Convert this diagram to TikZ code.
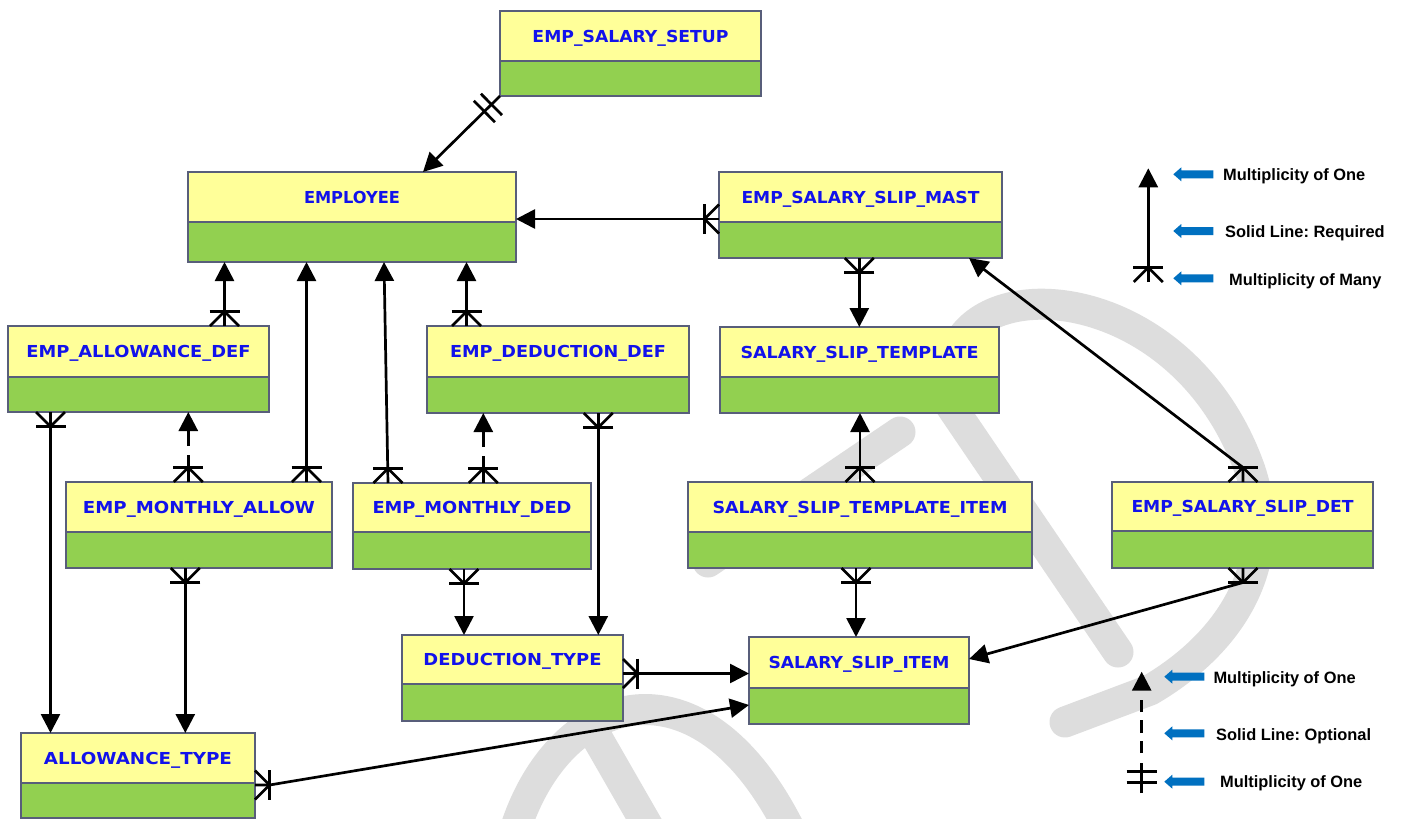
\documentclass[tikz,border=0pt]{standalone}
\usepackage{fontspec}
\usepackage{graphicx}
\setmainfont{Liberation Sans}
\newfontfamily\titlefont{DejaVu Sans}
\usetikzlibrary{arrows.meta,calc}

\definecolor{hdryellow}{RGB}{255,255,153}
\definecolor{bodygreen}{RGB}{146,208,80}
\definecolor{framegrey}{RGB}{88,94,122}
\definecolor{titleblue}{RGB}{18,18,235}
\definecolor{legendblue}{RGB}{0,112,192}
\definecolor{markgrey}{RGB}{221,221,221}

\tikzset{
  entity/.style={draw=framegrey, line width=2.8pt, fill=hdryellow, rectangle, inner sep=0pt, outer sep=0pt},
  etitle/.style={font=\titlefont\bfseries\fontsize{16.5}{16.5}\selectfont, text=titleblue, inner sep=0pt, anchor=base},
  rel/.style={line width=2.7pt, black, line join=round},
  tip/.style={-{Triangle[length=19pt 0 0,width=19pt 0 0]}},
  opt/.style={dash pattern=on 27pt off 9pt},
  legtext/.style={font=\bfseries\fontsize{16.4}{16.4}\selectfont\frenchspacing, inner sep=0pt, anchor=base west},
  wmark/.style={draw=markgrey, line width=31pt, line cap=round, line join=round},
}

% entity box: name, left x, top y, width, height, header height, title width, title
\newcommand\entity[8]{%
  \node[entity, minimum width=#4pt, minimum height=#5pt, anchor=north west,
    path picture={%
      \fill[bodygreen] ([yshift=-#6pt]path picture bounding box.north west) rectangle (path picture bounding box.south east);
      \draw[framegrey, line width=2.8pt] ([yshift=-#6pt]path picture bounding box.north west) -- ([yshift=-#6pt]path picture bounding box.north east);}]
    (#1) at (#2,#3) {};
  \node[etitle] (#1-t) at ([yshift=-#6pt/2-6.4pt]#1.north) {\resizebox{#7pt}{\height}{#8}};
}

% "many" end: crow's foot with a bar, at an edge point, opening towards the edge
\newcommand\crowfoot[3]{%
  \coordinate (cf-out) at ($(#1)+(#2,#3)$);
  \coordinate (cf-apex) at ($(#1)!14.5pt!(cf-out)$);
  \draw[rel] ($(cf-apex)!15pt!90:(cf-out)$) -- ($(cf-apex)!15pt!-90:(cf-out)$);
  \draw[rel] ($(#1)!14.5pt!90:(cf-out)$) -- (cf-apex) -- ($(#1)!14.5pt!-90:(cf-out)$);
}

% "one" end: a single cross bar at a distance along a connector
\newcommand\onebar[3]{%
  \coordinate (ob-m) at ($(#1)!#3!(#2)$);
  \draw[rel] ($(ob-m)!15pt!90:(#2)$) -- ($(ob-m)!15pt!-90:(#2)$);
}

% legend pointer
\newcommand\pointer[2]{%
  \fill[legendblue, shift={(#1,#2)}] (0,0) -- (8,-7) -- (8,-4) -- (40,-4) -- (40,4) -- (8,4) -- (8,7) -- cycle;
}

\begin{document}
\begin{tikzpicture}[x=1pt, y=-1pt]
\useasboundingbox (0,0) rectangle (1401,819);
\fill[white] (0,0) rectangle (1401,819);

% background stamp
\begin{scope}
  \clip (0,0) rectangle (1401,819);
  \draw[wmark] (962,338) .. controls (1010,270) and (1190,300) .. (1250,470)
               .. controls (1280,560) and (1235,640) .. (1150,690) -- (1065,722);
  \draw[wmark] (940,390) -- (1118,652);
  \draw[wmark] (900,432) -- (708,562);
  \draw[wmark] (515,830) .. controls (560,690) and (700,650) .. (790,830);
  \draw[wmark] (588,722) -- (650,830);
\end{scope}

% entities
\entity{setup}{500}{11}{261}{85}{50}{196}{EMP\_SALARY\_SETUP}
\entity{emp}{188}{172}{328}{90}{50}{96}{EMPLOYEE}
\entity{mast}{719}{172}{283}{86}{50}{238}{EMP\_SALARY\_SLIP\_MAST}
\entity{tmpl}{720}{327}{279}{86}{50}{238}{SALARY\_SLIP\_TEMPLATE}
\entity{adef}{8}{326}{261}{86}{51}{224}{EMP\_ALLOWANCE\_DEF}
\entity{ddef}{427}{326}{262}{87}{51}{216}{EMP\_DEDUCTION\_DEF}
\entity{mallow}{66}{482}{266}{86}{50}{232}{EMP\_MONTHLY\_ALLOW}
\entity{mded}{353}{483}{238}{86}{49}{199}{EMP\_MONTHLY\_DED}
\entity{titem}{688}{482}{344}{86}{50}{295}{SALARY\_SLIP\_TEMPLATE\_ITEM}
\entity{det}{1112}{482}{261}{86}{49}{222}{EMP\_SALARY\_SLIP\_DET}
\entity{dtype}{402}{635}{221}{86}{49}{178}{DEDUCTION\_TYPE}
\entity{sitem}{749}{637}{220}{87}{51}{181}{SALARY\_SLIP\_ITEM}
\entity{atype}{21}{733}{234}{85}{50}{188}{ALLOWANCE\_TYPE}

% setup -> employee (one and only one)
\coordinate (c1a) at (setup.south west);
\coordinate (c1b) at (emp.north -| 423,0);
\draw[rel,tip] (c1a) -- (c1b);
\onebar{c1a}{c1b}{12pt}
\onebar{c1a}{c1b}{22pt}

% slip master -> employee
\coordinate (c2a) at (mast.west |- 0,219);
\draw[rel,tip] (c2a) -- (emp.east |- 0,219);
\crowfoot{c2a}{-30}{0}

% allowance def -> employee
\coordinate (c3a) at (adef.north -| 224.5,0);
\draw[rel,tip] (c3a) -- (emp.south -| 224.5,0);
\crowfoot{c3a}{0}{-30}

% monthly allowance -> employee
\coordinate (c4a) at (mallow.north -| 306.5,0);
\draw[rel,tip] (c4a) -- (emp.south -| 306.5,0);
\crowfoot{c4a}{0}{-30}

% monthly deduction -> employee
\coordinate (c5a) at (mded.north -| 388,0);
\draw[rel,tip] (c5a) -- (emp.south -| 384,0);
\crowfoot{c5a}{0}{-30}

% deduction def -> employee
\coordinate (c6a) at (ddef.north -| 466.5,0);
\draw[rel,tip] (c6a) -- (emp.south -| 466.5,0);
\crowfoot{c6a}{0}{-30}

% monthly allowance -> allowance def (optional)
\coordinate (c7a) at (mallow.north -| 188.3,0);
\draw[rel,tip,opt] (c7a) -- (adef.south -| 188.3,0);
\crowfoot{c7a}{0}{-30}

% monthly deduction -> deduction def (optional)
\coordinate (c8a) at (mded.north -| 483.3,0);
\draw[rel,tip,opt] (c8a) -- (ddef.south -| 483.3,0);
\crowfoot{c8a}{0}{-30}

% allowance def -> allowance type
\coordinate (c9a) at (adef.south -| 50.5,0);
\draw[rel,tip] (c9a) -- (atype.north -| 50.5,0);
\crowfoot{c9a}{0}{30}

% monthly allowance -> allowance type
\coordinate (c10a) at (mallow.south -| 185.3,0);
\draw[rel,tip] (c10a) -- (atype.north -| 185.3,0);
\crowfoot{c10a}{0}{30}

% monthly deduction -> deduction type
\coordinate (c11a) at (mded.south -| 464,0);
\draw[rel,tip] (c11a) -- (dtype.north -| 464,0);
\crowfoot{c11a}{0}{30}

% deduction def -> deduction type
\coordinate (c12a) at (ddef.south -| 598.3,0);
\draw[rel,tip] (c12a) -- (dtype.north -| 598.3,0);
\crowfoot{c12a}{0}{30}

% deduction type -> slip item
\coordinate (c13a) at (dtype.east |- 0,673.5);
\draw[rel,tip] (c13a) -- (sitem.west |- 0,673.5);
\crowfoot{c13a}{30}{0}

% allowance type -> slip item
\coordinate (c14a) at (atype.east |- 0,785);
\draw[rel,tip] (c14a) -- ++(14.5,0) -- (sitem.west |- 0,705);
\crowfoot{c14a}{30}{0}

% template item -> slip item
\coordinate (c15a) at (titem.south -| 856,0);
\draw[rel,tip] (c15a) -- (sitem.north -| 856,0);
\crowfoot{c15a}{0}{30}

% template item -> template
\coordinate (c16a) at (titem.north -| 860,0);
\draw[rel,tip] (c16a) -- (tmpl.south -| 860,0);
\crowfoot{c16a}{0}{-30}

% slip master -> template
\coordinate (c17a) at (mast.south -| 859.3,0);
\draw[rel,tip] (c17a) -- (tmpl.north -| 859.3,0);
\crowfoot{c17a}{0}{30}

% slip detail -> slip master
\coordinate (c18a) at (det.north -| 1243,0);
\draw[rel,tip] (c18a) -- ++(0,-14.5) -- (mast.south -| 969,0);
\crowfoot{c18a}{0}{-30}

% slip detail -> slip item
\coordinate (c19a) at (det.south -| 1243,0);
\draw[rel,tip] (c19a) -- ++(0,14.5) -- (sitem.east |- 0,659);
\crowfoot{c19a}{0}{30}

% legend: required relation
\coordinate (lga) at (1148.3,282);
\coordinate (lgb) at (1148.3,168.3);
\draw[rel,-{Triangle[length=19pt 0 0,width=19pt 0 0]}] (lga) -- (lgb);
\crowfoot{lga}{0}{-30}
\pointer{1173.3}{174.3}
\pointer{1173.3}{231}
\pointer{1173.3}{278.3}
\node[legtext] (lt1) at (1223,180) {Multiplicity of One};
\node[legtext] (lt2) at (1225,237.7) {Solid Line: Required};
\node[legtext] (lt3) at (1229,285) {Multiplicity of Many};

% legend: optional relation
\coordinate (lgc) at (1141.7,793);
\coordinate (lgd) at (1141.7,671.7);
\draw[rel,-{Triangle[length=19pt 0 0,width=19pt 0 0]},
      dash pattern=on 30pt off 10pt on 12pt off 8pt on 13pt off 8pt on 12pt off 10pt] (lgc) -- (lgd);
\onebar{lgc}{lgd}{10.7pt}
\onebar{lgc}{lgd}{21.3pt}
\pointer{1164.3}{676.7}
\pointer{1164.3}{733.3}
\pointer{1164.3}{781.7}
\node[legtext] (lb1) at (1213.3,683.3) {Multiplicity of One};
\node[legtext] (lb2) at (1216,740.7) {Solid Line: Optional};
\node[legtext] (lb3) at (1220,787.7) {Multiplicity of One};
\end{tikzpicture}
\end{document}
